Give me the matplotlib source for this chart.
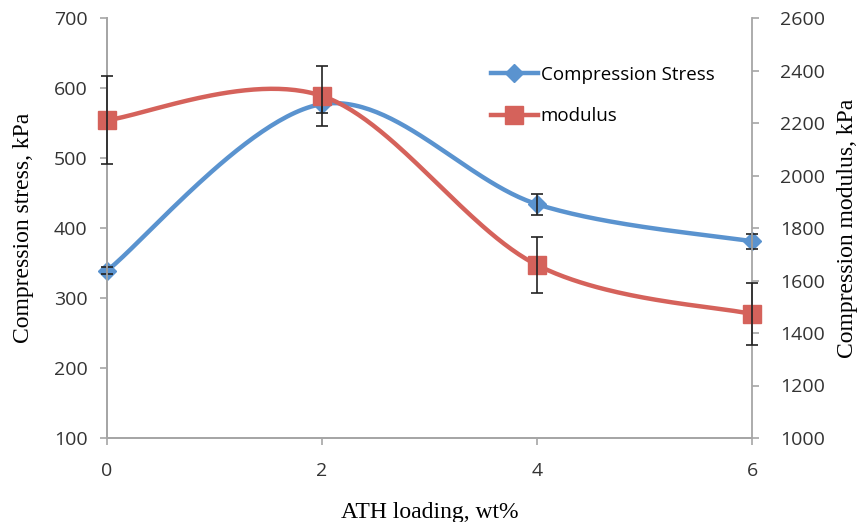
import numpy as np
import matplotlib
matplotlib.use("Agg")
import matplotlib.pyplot as plt
from matplotlib.lines import Line2D

# data
ath = [0, 2, 4, 6]
stress = [339, 577, 434, 381]          # kPa, left axis
stress_err = [5, 13, 15, 11]
modulus = [2211, 2303, 1659, 1472]      # kPa, right axis
modulus_err = [168, 116, 107, 118]

blue = "#5A93CF"
red = "#D5625B"
grey = "#A6A6A6"
tick_font = "Open Sans"
label_font = "Liberation Serif"


def smooth(x, y, n=60):
    # Excel-style smoothed line: cubic Bezier with Catmull-Rom control points
    x = np.asarray(x, float)
    y = np.asarray(y, float)
    px = np.concatenate([[x[0]], x, [x[-1]]])
    py = np.concatenate([[y[0]], y, [y[-1]]])
    t = np.linspace(0, 1, n)
    xs, ys = [], []
    for i in range(len(x) - 1):
        p0 = np.array([px[i + 1], py[i + 1]])
        p3 = np.array([px[i + 2], py[i + 2]])
        c1 = p0 + (p3 - np.array([px[i], py[i]])) / 6
        c2 = p3 - (np.array([px[i + 3], py[i + 3]]) - p0) / 6
        b = ((1 - t) ** 3)[:, None] * p0 + (3 * (1 - t) ** 2 * t)[:, None] * c1 \
            + (3 * (1 - t) * t ** 2)[:, None] * c2 + (t ** 3)[:, None] * p3
        xs.append(b[:, 0])
        ys.append(b[:, 1])
    return np.concatenate(xs), np.concatenate(ys)


fig = plt.figure(figsize=(8.64, 5.22), dpi=100)
ax1 = fig.add_axes([107 / 864, 1 - 438 / 522, 645 / 864, 420 / 522])
ax2 = ax1.twinx()

sx, sy = smooth(ath, stress)
ax1.plot(sx, sy, color=blue, lw=3.2, solid_capstyle="round", zorder=2, clip_on=False)
ax1.plot(ath, stress, ls="none", marker="D", ms=9.5, color=blue, zorder=3, clip_on=False)
eb = ax1.errorbar(ath, stress, yerr=stress_err, fmt="none", ecolor="#222222",
                  elinewidth=1.2, capsize=4.5, capthick=1.2, zorder=4)

mx, my = smooth(ath, modulus)
ax2.plot(mx, my, color=red, lw=3.2, solid_capstyle="round", zorder=2, clip_on=False)
ax2.plot(ath, modulus, ls="none", marker="s", ms=12.5, color=red, zorder=3, clip_on=False)
eb2 = ax2.errorbar(ath, modulus, yerr=modulus_err, fmt="none", ecolor="#222222",
                   elinewidth=1.2, capsize=4.5, capthick=1.2, zorder=4)
for container in (eb, eb2):
    for art in container.lines[1] + container.lines[2]:
        art.set_clip_on(False)

ax1.set_xlim(0, 6)
ax1.set_ylim(100, 700)
ax2.set_ylim(1000, 2600)
ax1.set_xticks(ath)
ax1.set_yticks(range(100, 701, 100))
ax2.set_yticks(range(1000, 2601, 200))

for ax in (ax1, ax2):
    for side in ax.spines:
        ax.spines[side].set_color(grey)
        ax.spines[side].set_linewidth(1.3)
    ax.spines["top"].set_visible(False)
    ax.tick_params(direction="out", length=5, width=1.2, color=grey,
                   labelsize=14, labelcolor="#333333")
    for lab in ax.get_xticklabels() + ax.get_yticklabels():
        lab.set_fontfamily(tick_font)
ax1.spines["right"].set_visible(False)
ax1.tick_params(axis="y", pad=9)
ax1.tick_params(axis="x", pad=12)
ax2.tick_params(axis="y", pad=15)

ax1.set_xlabel("ATH loading, wt%", fontfamily=label_font, fontsize=17, labelpad=16)
ax1.set_ylabel("Compression stress, kPa", fontfamily=label_font, fontsize=17, labelpad=14)
ax2.set_ylabel("Compression modulus, kPa", fontfamily=label_font, fontsize=17, labelpad=9)

handles = [
    Line2D([], [], color=blue, lw=3.2, marker="D", ms=9.5),
    Line2D([], [], color=red, lw=3.2, marker="s", ms=12.5),
]
fig.legend(handles, ["Compression Stress", "modulus"], loc="upper left",
           bbox_to_anchor=(491 / 864, 1 - 66 / 522), frameon=False,
           prop={"family": tick_font, "size": 13.5}, handlelength=2.5,
           handletextpad=0.15, labelspacing=1.25, borderpad=0, borderaxespad=0)

fig.savefig("out.png", dpi=100)
